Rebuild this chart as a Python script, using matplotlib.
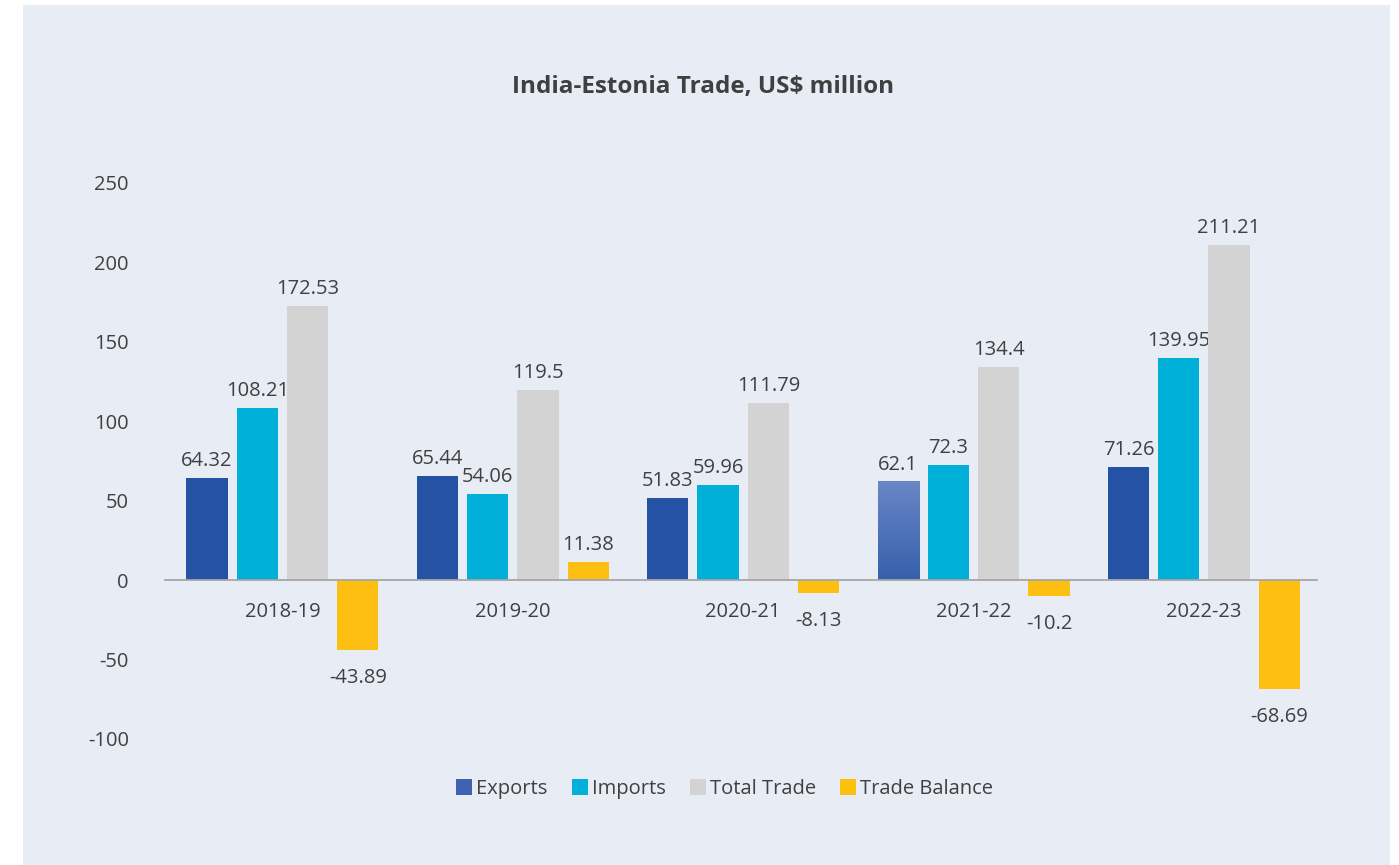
import numpy as np
import matplotlib
matplotlib.use('Agg')
import matplotlib.pyplot as plt
from matplotlib.patches import Rectangle, Patch

plt.rcParams['font.family'] = ['Open Sans', 'DejaVu Sans']
plt.rcParams['axes.unicode_minus'] = False

# Dados (US$ milhoes)
anos = ['2018-19', '2019-20', '2020-21', '2021-22', '2022-23']
exportacoes = [64.32, 65.44, 51.83, 62.1, 71.26]
importacoes = [108.21, 54.06, 59.96, 72.3, 139.95]
comercio_total = [172.53, 119.5, 111.79, 134.4, 211.21]
balanca = [-43.89, 11.38, -8.13, -10.2, -68.69]

series = [
    ('Exports', exportacoes, '#2453A6'),
    ('Imports', importacoes, '#00B0D8'),
    ('Total Trade', comercio_total, '#D3D3D3'),
    ('Trade Balance', balanca, '#FDBF12'),
]

FUNDO = '#E8ECF5'
TEXTO = '#404040'
FS = 14.5

fig = plt.figure(figsize=(13.99, 8.65), dpi=100, facecolor='white')
# painel de fundo azul claro (com margem branca a esquerda/topo)
fig.patches.append(Rectangle((23 / 1399, 0), (1390 - 23) / 1399, (865 - 5) / 865,
                             transform=fig.transFigure, facecolor=FUNDO,
                             edgecolor='none', zorder=-10))

ax = fig.add_axes([0.1179, 0.1457, 0.8234, 0.6428])
ax.set_facecolor('none')

x = np.arange(len(anos))
passo = 0.218
largura = 0.179
desloc = 0.010

for k, (nome, vals, cor) in enumerate(series):
    pos = x + (k - 1.5) * passo + desloc
    barras = ax.bar(pos, vals, width=largura, color=cor, zorder=3)
    for b, v in zip(barras, vals):
        cx = b.get_x() + b.get_width() / 2
        if v >= 0:
            ax.annotate(f'{v:g}', (cx, v), xytext=(0, 5), textcoords='offset points',
                        ha='center', va='bottom', fontsize=FS, color=TEXTO)
        else:
            ax.annotate(f'{v:g}', (cx, v), xytext=(0, -13), textcoords='offset points',
                        ha='center', va='top', fontsize=FS, color=TEXTO)
    if nome == 'Exports':
        # barra de 2021-22 com degrade
        b = barras[3]
        b.set_facecolor('none')
        grad = np.linspace(0, 1, 256).reshape(-1, 1)
        cmap = matplotlib.colors.LinearSegmentedColormap.from_list('g', ['#3660AC', '#6A86C6'])
        x0, w, h = b.get_x(), b.get_width(), b.get_height()
        im = ax.imshow(grad, cmap=cmap, origin='lower', aspect='auto',
                       extent=(x0, x0 + w, 0, h), zorder=3)
        im.set_clip_path(b)

ax.set_xlim(-0.5, 4.5)
ax.set_ylim(-100, 250)
ax.set_yticks(np.arange(-100, 251, 50))
ax.set_xticks(x + desloc)
ax.set_xticklabels(anos)

for s in ['top', 'right', 'left']:
    ax.spines[s].set_visible(False)
ax.spines['bottom'].set_position(('data', 0))
ax.spines['bottom'].set_color('#A6A6A6')
ax.spines['bottom'].set_linewidth(1.3)
ax.spines['bottom'].set_zorder(4)
ax.tick_params(axis='x', length=0, pad=16, labelsize=FS, labelcolor=TEXTO)
ax.tick_params(axis='y', length=0, pad=26, labelsize=FS, labelcolor=TEXTO)

fig.text(0.5025, 0.899, 'India-Estonia Trade, US$ million', ha='center', va='center',
         fontsize=17.5, fontweight='bold', color=TEXTO)

handles = [Patch(facecolor='#3F63B0' if n == 'Exports' else c, label=n) for n, _, c in series]
fig.legend(handles=handles, loc='center', bbox_to_anchor=(0.518, 0.088), ncol=4,
           frameon=False, fontsize=FS, handlelength=0.8, handleheight=0.8,
           handletextpad=0.2, columnspacing=1.2, labelcolor=TEXTO)

fig.savefig('out.png', dpi=100, facecolor='white')
